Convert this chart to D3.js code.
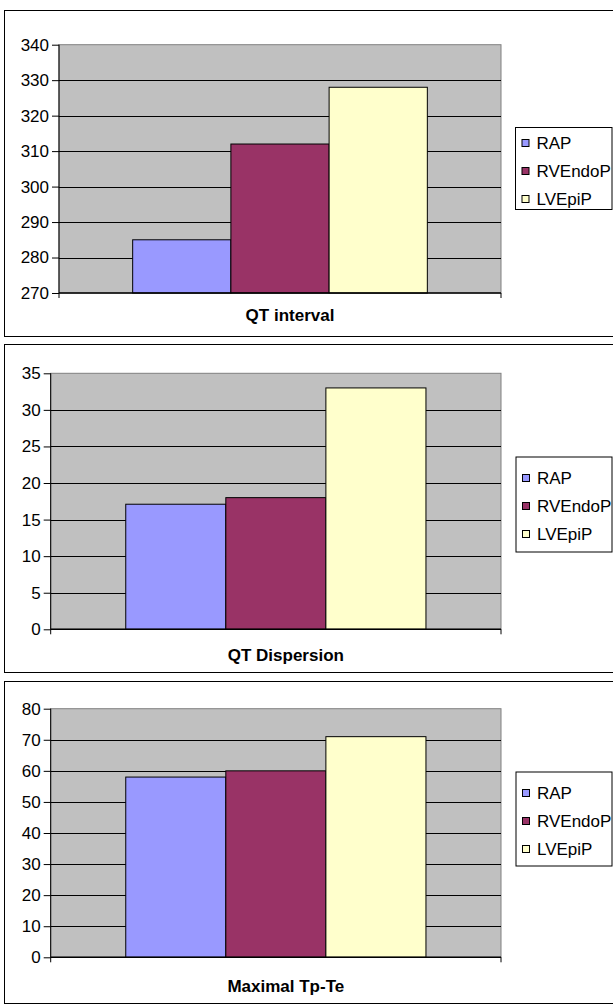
<!DOCTYPE html>
<html>
<head>
<meta charset="utf-8">
<script src="https://cdn.jsdelivr.net/npm/d3@7"></script>
<style>
  html, body { margin: 0; padding: 0; background: #fff; }
  svg { display: block; font-family: "Liberation Sans", Arial, sans-serif; }
</style>
</head>
<body>
<svg id="chart" width="613" height="1005"></svg>
<script>
// Pacing sites, shared by all three charts
const series = ["RAP", "RVEndoP", "LVEpiP"];
const seriesColors = ["#9999FF", "#993366", "#FFFFCC"];

// Chart titles (category axis label of each chart)
const titles = ["QT interval", "QT Dispersion", "Maximal Tp-Te"];

// Values per pacing site
const qtInterval = [285, 312, 328];
const qtDispersion = [17.1, 18, 33];
const maxTpTe = [58, 60, 71];

// Value-axis ranges and tick labels
const qtIntervalTicks = [270, 280, 290, 300, 310, 320, 330, 340];
const qtDispersionTicks = [0, 5, 10, 15, 20, 25, 30, 35];
const maxTpTeTicks = [0, 10, 20, 30, 40, 50, 60, 70, 80];

const datasets = [qtInterval, qtDispersion, maxTpTe];
const tickSets = [qtIntervalTicks, qtDispersionTicks, maxTpTeTicks];

// Panel layout: outer frame, plot area, legend box, title offset below the plot
const panels = [
  { frame: [4, 10, 640, 336], plot: [59, 44.7, 501, 293], legend: [515.5, 127.5, 612, 209.5], item0: 143, titleDy: 28 },
  { frame: [4, 344, 640, 672], plot: [50.7, 373.3, 501, 629.3], legend: [516, 457, 612, 552], item0: 478, titleDy: 32 },
  { frame: [4, 681, 640, 1003], plot: [50.7, 708.7, 501, 957.3], legend: [516, 772, 612, 866], item0: 793, titleDy: 35 }
];

const svg = d3.select("#chart");
const FONT = 17;

panels.forEach((p, i) => {
  const values = datasets[i];
  const ticks = tickSets[i];
  const [px0, py0, px1, py1] = p.plot;
  const g = svg.append("g");

  // outer chart frame
  g.append("rect")
    .attr("x", p.frame[0] + 0.5).attr("y", p.frame[1] + 0.5)
    .attr("width", p.frame[2] - p.frame[0]).attr("height", p.frame[3] - p.frame[1])
    .attr("fill", "#fff").attr("stroke", "#000").attr("stroke-width", 1);

  const y = d3.scaleLinear().domain([ticks[0], ticks[ticks.length - 1]]).range([py1, py0]);
  const x = d3.scaleBand().domain(series).range([px0, px1]).paddingInner(0).paddingOuter(0.75);

  // plot area background
  g.append("rect")
    .attr("x", px0).attr("y", py0)
    .attr("width", px1 - px0).attr("height", py1 - py0)
    .attr("fill", "#C0C0C0").attr("stroke", "#808080").attr("stroke-width", 1);

  // gridlines
  g.append("g").selectAll("line")
    .data(ticks.slice(1, -1))
    .join("line")
    .attr("x1", px0).attr("x2", px1)
    .attr("y1", d => Math.round(y(d)) + 0.5).attr("y2", d => Math.round(y(d)) + 0.5)
    .attr("stroke", "#000").attr("stroke-width", 1);

  // bars
  g.append("g").selectAll("rect")
    .data(values)
    .join("rect")
    .attr("x", (d, j) => x(series[j]))
    .attr("y", d => y(d))
    .attr("width", x.bandwidth())
    .attr("height", d => y(ticks[0]) - y(d))
    .attr("fill", (d, j) => seriesColors[j])
    .attr("stroke", "#000").attr("stroke-width", 1);

  // value axis
  const yAxis = d3.axisLeft(y).tickValues(ticks).tickSize(7).tickPadding(3).tickFormat(d3.format("d"));
  const ya = g.append("g").attr("transform", `translate(${px0},0)`).call(yAxis);
  ya.select(".domain").attr("stroke", "#000").attr("d", `M0,${py0}V${py1 + 5}`);
  ya.selectAll("line").attr("stroke", "#000");
  ya.selectAll("text").attr("font-size", FONT).attr("fill", "#000")
    .attr("font-family", "'Liberation Sans', Arial, sans-serif");

  // category axis line with end ticks
  g.append("line")
    .attr("x1", px0).attr("x2", px1).attr("y1", py1).attr("y2", py1)
    .attr("stroke", "#000").attr("stroke-width", 1.5);
  g.append("line")
    .attr("x1", px1).attr("x2", px1).attr("y1", py1).attr("y2", py1 + 5)
    .attr("stroke", "#000");

  // category axis title
  g.append("text")
    .attr("x", (px0 + px1) / 2 + 10)
    .attr("y", py1 + p.titleDy)
    .attr("text-anchor", "middle")
    .attr("font-size", FONT).attr("font-weight", "bold")
    .text(titles[i]);

  // legend
  const [lx0, ly0, lx1, ly1] = p.legend;
  g.append("rect")
    .attr("x", lx0).attr("y", ly0).attr("width", lx1 - lx0).attr("height", ly1 - ly0)
    .attr("fill", "#fff").attr("stroke", "#000").attr("stroke-width", 1);
  const items = g.append("g").selectAll("g")
    .data(series)
    .join("g")
    .attr("transform", (d, j) => `translate(${lx0 + 6},${p.item0 + j * 28})`);
  items.append("rect")
    .attr("x", 0.5).attr("y", -3.5).attr("width", 7).attr("height", 7)
    .attr("fill", (d, j) => seriesColors[j]).attr("stroke", "#000").attr("stroke-width", 1);
  items.append("text")
    .attr("x", 15).attr("y", 0).attr("dy", "0.35em")
    .attr("font-size", FONT)
    .text(d => d);
});
</script>
</body>
</html>
